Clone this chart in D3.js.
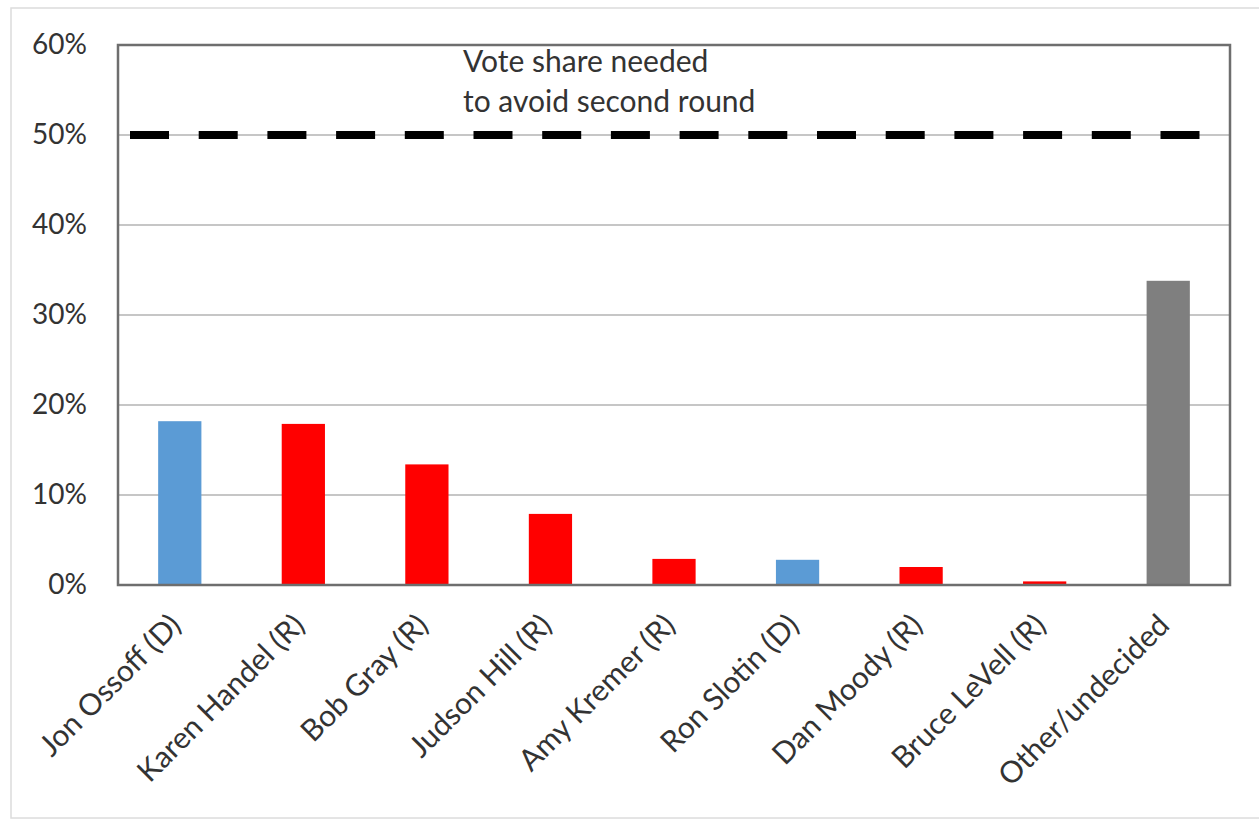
<!DOCTYPE html>
<html>
<head>
<meta charset="utf-8">
<script src="https://cdn.jsdelivr.net/npm/d3@7"></script>
<style>
  body { margin: 0; background: #fff; }
  text { font-family: Lato, "Open Sans", sans-serif; fill: #333; }
</style>
</head>
<body>
<div id="chart"></div>
<script>
// poll shares
const candidates = ["Jon Ossoff (D)", "Karen Handel (R)", "Bob Gray (R)", "Judson Hill (R)",
    "Amy Kremer (R)", "Ron Slotin (D)", "Dan Moody (R)", "Bruce LeVell (R)", "Other/undecided"];
const shares = [18.2, 17.9, 13.4, 7.9, 2.9, 2.8, 2.0, 0.4, 33.8];
const parties = ["D", "R", "R", "R", "R", "D", "R", "R", "other"];
const yTicks = [0, 10, 20, 30, 40, 50, 60];
const threshold = 50;
const thresholdLabel = ["Vote share needed", "to avoid second round"];

const partyColor = {D: "#5b9bd5", R: "#ff0000", other: "#7f7f7f"};

let W = 1259, H = 820;
let margin = {top: 45, right: 29, bottom: 235, left: 118};
let width = W - margin.left - margin.right;
let height = H - margin.top - margin.bottom;

let svg = d3.select("#chart").append("svg")
    .attr("width", W)
    .attr("height", H);

// outer frame of the picture
svg.append("rect")
    .attr("x", 11).attr("y", 8)
    .attr("width", W).attr("height", 810)
    .attr("fill", "none")
    .attr("stroke", "#dcdcdc")
    .attr("stroke-width", 1.5);

let g = svg.append("g")
    .attr("transform", `translate(${margin.left},${margin.top})`);

let x = d3.scaleBand()
    .domain(candidates)
    .range([0, width]);

let y = d3.scaleLinear()
    .domain([0, 60])
    .range([height, 0]);

// gridlines
g.selectAll(".grid")
    .data(yTicks)
    .join("line")
    .attr("class", "grid")
    .attr("x1", 0).attr("x2", width)
    .attr("y1", d => y(d)).attr("y2", d => y(d))
    .attr("stroke", "#c6c6c6")
    .attr("stroke-width", 2);

// y axis labels
let yAxis = d3.axisLeft(y)
    .tickValues(yTicks)
    .tickSize(0)
    .tickPadding(31)
    .tickFormat(d => d + "%");

g.append("g")
    .attr("class", "y-axis")
    .call(yAxis)
    .call(s => s.select(".domain").remove())
    .selectAll("text")
    .style("font-size", "28px")
    .attr("fill", "#333");

// bars
let barW = x.bandwidth() * 0.35;
g.selectAll(".bar")
    .data(shares)
    .join("rect")
    .attr("class", "bar")
    .attr("x", (d, i) => x(candidates[i]) + (x.bandwidth() - barW) / 2)
    .attr("y", d => y(d))
    .attr("width", barW)
    .attr("height", d => height - y(d))
    .attr("fill", (d, i) => partyColor[parties[i]]);

// threshold dashed line
g.append("line")
    .attr("x1", 0).attr("x2", width)
    .attr("y1", y(threshold)).attr("y2", y(threshold))
    .attr("stroke", "#000")
    .attr("stroke-width", 8)
    .attr("stroke-dasharray", "39,29.7")
    .attr("stroke-dashoffset", 56.7);

g.append("text")
    .attr("x", 345)
    .attr("y", y(threshold) - 63)
    .style("font-size", "30px")
    .selectAll("tspan")
    .data(thresholdLabel)
    .join("tspan")
    .attr("x", 345)
    .attr("dy", (d, i) => i ? 40 : 0)
    .text(d => d);

// plot border
g.append("rect")
    .attr("width", width).attr("height", height)
    .attr("fill", "none")
    .attr("stroke", "#6e6e6e")
    .attr("stroke-width", 2.5);

// x labels, rotated
g.append("g")
    .selectAll("text")
    .data(candidates)
    .join("text")
    .attr("transform", d => `translate(${x(d) + x.bandwidth() / 2 + 3},${height + 42}) rotate(-45)`)
    .attr("text-anchor", "end")
    .style("font-size", "30px")
    .text(d => d);
</script>
</body>
</html>
